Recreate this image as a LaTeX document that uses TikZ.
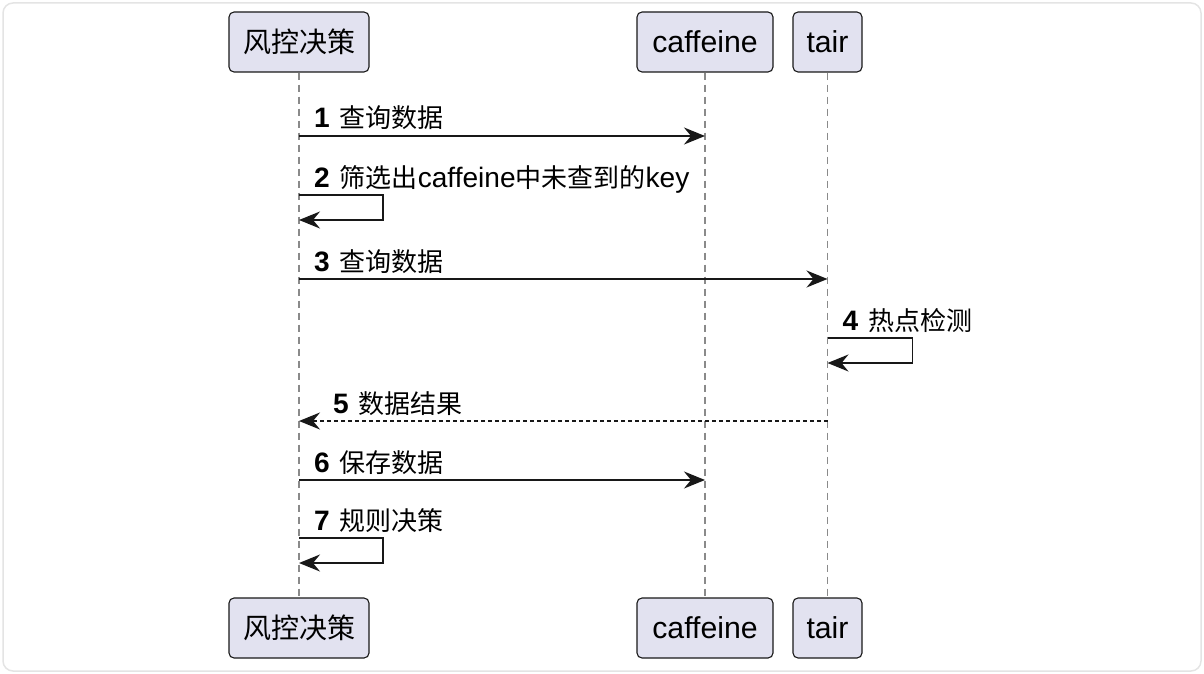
\documentclass[tikz,border=0pt]{standalone}
\usepackage{fontspec}
\setmainfont{Liberation Sans}[Scale=1.08]
\newfontfamily\cjk{Noto Sans CJK SC}
\usetikzlibrary{arrows.meta}
\definecolor{boxfill}{HTML}{E2E2F0}
\definecolor{boxline}{HTML}{181818}
\definecolor{lifegray}{HTML}{8A8A8A}
\definecolor{framegray}{HTML}{E4E4E4}

\begin{document}
\begin{tikzpicture}[x=1pt,y=-1pt,>=Stealth,
	participant/.style={draw=boxline,fill=boxfill,line width=1.1pt,rounded corners=5pt,
		minimum height=60pt,inner sep=0pt,font=\fontsize{28}{32}\selectfont},
	lifeline/.style={draw=lifegray,line width=1.2pt,dash pattern=on 7pt off 5pt},
	msg/.style={draw=boxline,line width=1.7pt,-{Stealth[length=21pt,width=17pt,inset=7pt]}},
	reply/.style={msg,dash pattern=on 4pt off 3pt},
	msglabel/.style={anchor=base west,inner sep=0pt,font=\fontsize{26}{29}\selectfont}
	]
	\useasboundingbox (0,0) rectangle (1204,674);
	\draw[framegray,line width=1.5pt,rounded corners=10pt] (3,3) rectangle (1201,671);

	% participants
	\node[participant,minimum width=140pt] (fkTop) at (299,42) {\cjk 风控决策};
	\node[participant,minimum width=136pt] (caTop) at (705,42) {caffeine};
	\node[participant,minimum width=69pt] (taTop) at (827.5,42) {tair};
	\node[participant,minimum width=140pt] (fkBot) at (299,628) {\cjk 风控决策};
	\node[participant,minimum width=136pt] (caBot) at (705,628) {caffeine};
	\node[participant,minimum width=69pt] (taBot) at (827.5,628) {tair};

	% lifelines
	\draw[lifeline] (fkTop.south) -- (fkBot.north);
	\draw[lifeline] (caTop.south) -- (caBot.north);
	\draw[lifeline] (taTop.south) -- (taBot.north);

	% 1
	\coordinate (m1a) at (fkTop |- 0,136);
	\coordinate (m1b) at (caTop |- 0,136);
	\draw[msg] (m1a) -- (m1b);
	\node[msglabel] (l1) at ([xshift=15pt,yshift=8pt]m1a) {\textbf{1}\hspace{10pt}{\cjk 查询数据}};

	% 2
	\coordinate (m2a) at (fkTop |- 0,195);
	\coordinate (m2b) at (fkTop |- 0,220);
	\draw[msg] (m2a) -- ++(84,0) -- ++(0,25) -- (m2b);
	\node[msglabel] (l2) at ([xshift=15pt,yshift=8pt]m2a) {\textbf{2}\hspace{10pt}{\cjk 筛选出}caffeine{\cjk 中未查到的}key};

	% 3
	\coordinate (m3a) at (fkTop |- 0,279);
	\coordinate (m3b) at (taTop |- 0,279);
	\draw[msg] (m3a) -- (m3b);
	\node[msglabel] (l3) at ([xshift=15pt,yshift=8pt]m3a) {\textbf{3}\hspace{10pt}{\cjk 查询数据}};

	% 4
	\coordinate (m4a) at (taTop |- 0,338);
	\coordinate (m4b) at (taTop |- 0,363);
	\draw[msg] (m4a) -- ++(85,0) -- ++(0,25) -- (m4b);
	\node[msglabel] (l4) at ([xshift=15pt,yshift=8pt]m4a) {\textbf{4}\hspace{10pt}{\cjk 热点检测}};

	% 5
	\coordinate (m5a) at (taTop |- 0,421);
	\coordinate (m5b) at (fkTop |- 0,421);
	\draw[reply] (m5a) -- (m5b);
	\node[msglabel] (l5) at ([xshift=34pt,yshift=8pt]m5b) {\textbf{5}\hspace{10pt}{\cjk 数据结果}};

	% 6
	\coordinate (m6a) at (fkTop |- 0,480);
	\coordinate (m6b) at (caTop |- 0,480);
	\draw[msg] (m6a) -- (m6b);
	\node[msglabel] (l6) at ([xshift=15pt,yshift=8pt]m6a) {\textbf{6}\hspace{10pt}{\cjk 保存数据}};

	% 7
	\coordinate (m7a) at (fkTop |- 0,538);
	\coordinate (m7b) at (fkTop |- 0,563);
	\draw[msg] (m7a) -- ++(84,0) -- ++(0,25) -- (m7b);
	\node[msglabel] (l7) at ([xshift=15pt,yshift=8pt]m7a) {\textbf{7}\hspace{10pt}{\cjk 规则决策}};
\end{tikzpicture}
\end{document}
